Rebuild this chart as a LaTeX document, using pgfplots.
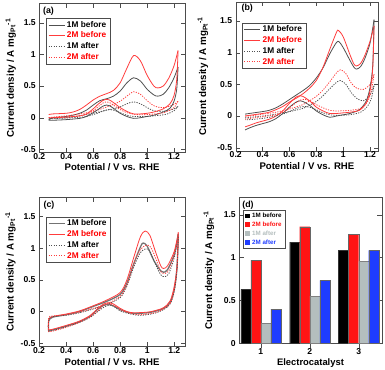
\documentclass[border=0pt]{standalone}
\usepackage{fontspec}
\setmainfont{Liberation Sans}
\usepackage{pgfplots}
\pgfplotsset{compat=1.18}
\definecolor{cvgray}{HTML}{505050}
\definecolor{cvred}{HTML}{FF3C3C}
\definecolor{bgray}{HTML}{B4BEBE}
\definecolor{bblue}{HTML}{1E3CFF}
\definecolor{bred}{HTML}{FF1414}
\pgfplotsset{
  cvbase/.style={
    scale only axis, height=149pt, xmin=0.2, ymin=-0.55, ymax=1.8,
    xtick={0.2,0.4,0.6,0.8,1,1.2}, ytick={-0.5,0,0.5,1,1.5},
    axis line style={black!70}, tick style={black!70},
    tick label style={font=\bfseries\fontsize{8.6}{9.6}\selectfont},
    xticklabel style={inner sep=0.8pt},
    /pgf/number format/assume math mode=true,
    xlabel={Potential / V vs. RHE},
    ylabel={Current density / A mg\textsubscript{Pt}\textsuperscript{-1}},
    xlabel style={font=\bfseries\fontsize{9.6}{11}\selectfont, anchor=center},
    ylabel style={font=\bfseries\fontsize{9.8}{11}\selectfont, anchor=center},
    legend style={draw=black!70, font=\bfseries\fontsize{8.3}{9.3}\selectfont, anchor=north west,
      inner xsep=2pt, inner ysep=1pt, row sep=-0.8pt},
    legend cell align=left,
    legend image code/.code={\draw[##1] (0pt,0pt) -- (16pt,0pt);},
  },
  gs/.style={cvgray, line width=0.8pt, smooth},
  rs/.style={cvred, line width=0.8pt, smooth},
  gd/.style={cvgray, line width=0.8pt, dash pattern=on 1.2pt off 1.3pt, smooth},
  rd/.style={cvred, line width=0.8pt, dash pattern=on 1.2pt off 1.3pt, smooth},
}
\begin{document}
\begin{tikzpicture}
\useasboundingbox (0,0) rectangle (385pt,369pt);
% ---------------- (a)
\begin{axis}[cvbase, at={(39.3pt,216.4pt)}, anchor=south west, width=145.5pt, xmax=1.28,
  xlabel style={at={(axis description cs:0.5,-0.1)}},
  ylabel style={at={(axis description cs:-0.196,0.5)}},
  legend style={at={(rel axis cs:0.046,0.903)}}]
\addplot[gs] coordinates {(0.27,-0.03) (0.3,0.0) (0.35,0.01) (0.4,0.02) (0.45,0.04) (0.5,0.07) (0.55,0.12) (0.6,0.2) (0.65,0.27) (0.7,0.3) (0.75,0.34) (0.8,0.42) (0.85,0.55) (0.9,0.63) (0.95,0.58) (1.0,0.45) (1.05,0.36) (1.08,0.34) (1.12,0.37) (1.16,0.47) (1.2,0.63) (1.23,0.8)};
\addlegendentry{\textcolor{black}{1M before}}
\addplot[rs] coordinates {(0.27,0.05) (0.3,0.06) (0.4,0.07) (0.45,0.09) (0.5,0.13) (0.55,0.2) (0.6,0.28) (0.65,0.34) (0.7,0.38) (0.75,0.43) (0.8,0.55) (0.85,0.78) (0.9,0.98) (0.95,0.9) (1.0,0.67) (1.05,0.5) (1.08,0.47) (1.12,0.5) (1.16,0.62) (1.2,0.82) (1.23,1.06)};
\addlegendentry{\textcolor{red}{2M before}}
\addplot[gd] coordinates {(0.27,-0.02) (0.3,-0.01) (0.4,0.0) (0.5,0.03) (0.6,0.07) (0.7,0.12) (0.75,0.14) (0.8,0.17) (0.85,0.22) (0.9,0.25) (0.95,0.22) (1.0,0.16) (1.05,0.11) (1.1,0.1) (1.15,0.11) (1.2,0.14) (1.23,0.18)};
\addlegendentry{\textcolor{black}{1M after}}
\addplot[rd] coordinates {(0.27,0.0) (0.3,0.01) (0.4,0.03) (0.5,0.06) (0.6,0.1) (0.7,0.17) (0.75,0.21) (0.8,0.26) (0.85,0.34) (0.9,0.41) (0.95,0.37) (1.0,0.27) (1.05,0.19) (1.1,0.16) (1.15,0.17) (1.2,0.21) (1.23,0.26)};
\addlegendentry{\textcolor{red}{2M after}}
\addplot[gs, forget plot] coordinates {(1.23,0.8) (1.22,0.45) (1.2,0.26) (1.17,0.15) (1.12,0.09) (1.05,0.04) (1.0,0.02) (0.95,0.0) (0.9,-0.01) (0.85,0.02) (0.8,0.07) (0.75,0.15) (0.72,0.19) (0.7,0.2) (0.67,0.18) (0.63,0.12) (0.6,0.08) (0.55,0.02) (0.5,-0.01) (0.4,-0.03) (0.3,-0.04) (0.27,-0.04)};
\addplot[rs, forget plot] coordinates {(1.23,1.06) (1.22,0.6) (1.2,0.35) (1.17,0.22) (1.12,0.14) (1.05,0.09) (1.0,0.07) (0.95,0.06) (0.9,0.06) (0.85,0.1) (0.8,0.16) (0.75,0.24) (0.72,0.28) (0.7,0.29) (0.67,0.27) (0.63,0.2) (0.6,0.14) (0.55,0.06) (0.5,0.03) (0.4,0.01) (0.3,0.0) (0.27,0.0)};
\addplot[gd, forget plot] coordinates {(1.23,0.18) (1.2,0.11) (1.15,0.06) (1.1,0.04) (1.0,0.02) (0.9,0.02) (0.85,0.04) (0.8,0.08) (0.75,0.12) (0.72,0.13) (0.68,0.11) (0.63,0.07) (0.55,0.02) (0.45,0.0) (0.35,-0.01) (0.27,-0.02)};
\addplot[rd, forget plot] coordinates {(1.23,0.26) (1.2,0.16) (1.15,0.1) (1.1,0.07) (1.0,0.05) (0.92,0.05) (0.85,0.08) (0.8,0.13) (0.75,0.2) (0.72,0.24) (0.7,0.25) (0.67,0.23) (0.63,0.16) (0.58,0.08) (0.5,0.03) (0.4,0.01) (0.3,0.0) (0.27,0.0)};
\node[font=\bfseries\fontsize{8.8}{10}\selectfont, anchor=north west, inner sep=0pt] at (rel axis cs:0.025,0.975) {(a)};
\end{axis}
% ---------------- (b)
\begin{axis}[cvbase, at={(235.7pt,218.1pt)}, anchor=south west, width=142.4pt, xmax=1.26,
  xlabel style={at={(axis description cs:0.5,-0.1)}},
  ylabel style={at={(axis description cs:-0.23,0.5)}},
  legend style={at={(rel axis cs:0.042,0.86)}}]
\addplot[gs] coordinates {(0.27,0.03) (0.3,0.04) (0.4,0.07) (0.45,0.09) (0.5,0.13) (0.55,0.19) (0.6,0.26) (0.65,0.33) (0.7,0.4) (0.75,0.48) (0.8,0.6) (0.85,0.76) (0.9,0.98) (0.95,1.16) (0.97,1.17) (1.0,1.08) (1.05,0.88) (1.08,0.77) (1.1,0.74) (1.13,0.78) (1.16,0.9) (1.2,1.15) (1.23,1.52)};
\addlegendentry{\textcolor{black}{1M before}}
\addplot[rs] coordinates {(0.27,0.0) (0.3,0.01) (0.4,0.04) (0.45,0.06) (0.5,0.1) (0.55,0.15) (0.6,0.22) (0.65,0.28) (0.7,0.35) (0.75,0.44) (0.8,0.56) (0.85,0.77) (0.9,1.05) (0.95,1.32) (0.965,1.35) (1.0,1.25) (1.05,0.97) (1.08,0.82) (1.1,0.79) (1.13,0.83) (1.16,0.95) (1.2,1.18) (1.23,1.42)};
\addlegendentry{\textcolor{red}{2M before}}
\addplot[gd] coordinates {(0.27,-0.03) (0.3,-0.02) (0.4,0.0) (0.5,0.03) (0.6,0.07) (0.7,0.12) (0.75,0.17) (0.8,0.23) (0.85,0.32) (0.9,0.43) (0.95,0.53) (0.98,0.56) (1.02,0.5) (1.06,0.37) (1.1,0.28) (1.15,0.24) (1.2,0.33) (1.23,0.48)};
\addlegendentry{\textcolor{black}{1M after}}
\addplot[rd] coordinates {(0.27,0.0) (0.3,0.0) (0.4,0.03) (0.5,0.06) (0.6,0.11) (0.7,0.18) (0.75,0.24) (0.8,0.31) (0.85,0.41) (0.9,0.54) (0.95,0.68) (0.98,0.73) (1.02,0.67) (1.06,0.52) (1.1,0.44) (1.15,0.42) (1.2,0.5) (1.23,0.66)};
\addlegendentry{\textcolor{red}{2M after}}
\addplot[gs, forget plot] coordinates {(1.23,1.52) (1.22,0.8) (1.2,0.45) (1.17,0.23) (1.12,0.1) (1.05,0.04) (1.0,0.02) (0.95,0.0) (0.9,-0.02) (0.85,0.02) (0.8,0.08) (0.75,0.17) (0.7,0.23) (0.68,0.24) (0.65,0.22) (0.6,0.14) (0.55,0.04) (0.5,-0.04) (0.45,-0.09) (0.4,-0.12) (0.35,-0.15) (0.3,-0.19) (0.27,-0.22)};
\addplot[rs, forget plot] coordinates {(1.23,1.42) (1.22,0.75) (1.2,0.4) (1.17,0.2) (1.12,0.09) (1.05,0.06) (1.0,0.05) (0.95,0.04) (0.9,0.04) (0.85,0.08) (0.8,0.14) (0.75,0.24) (0.7,0.31) (0.68,0.32) (0.65,0.3) (0.6,0.2) (0.55,0.08) (0.5,0.0) (0.45,-0.05) (0.4,-0.08) (0.35,-0.11) (0.3,-0.15) (0.27,-0.17)};
\addplot[gd, forget plot] coordinates {(1.23,0.48) (1.21,0.28) (1.18,0.15) (1.13,0.06) (1.05,0.02) (0.95,0.01) (0.9,0.02) (0.85,0.05) (0.8,0.1) (0.75,0.14) (0.72,0.15) (0.68,0.14) (0.62,0.09) (0.55,0.03) (0.45,-0.02) (0.35,-0.05) (0.27,-0.06)};
\addplot[rd, forget plot] coordinates {(1.23,0.66) (1.21,0.4) (1.18,0.22) (1.13,0.12) (1.05,0.09) (0.95,0.08) (0.9,0.09) (0.85,0.13) (0.8,0.18) (0.75,0.24) (0.72,0.26) (0.68,0.25) (0.63,0.18) (0.57,0.08) (0.5,0.02) (0.4,-0.01) (0.3,-0.04) (0.27,-0.05)};
\node[font=\bfseries\fontsize{8.8}{10}\selectfont, anchor=north west, inner sep=0pt] at (rel axis cs:0.04,0.985) {(b)};
\end{axis}
% ---------------- (c)
\begin{axis}[cvbase, at={(39pt,22.6pt)}, anchor=south west, width=146.1pt, xmax=1.28,
  xlabel style={at={(axis description cs:0.5,-0.106)}},
  ylabel style={at={(axis description cs:-0.195,0.5)}},
  legend style={at={(rel axis cs:0.046,0.87)}}]
\addplot[cvgray!80, line width=1.3pt, smooth] coordinates {(0.27,-0.3) (0.272,-0.15) (0.3,-0.09) (0.4,-0.05) (0.5,0.0) (0.6,0.08) (0.7,0.16) (0.8,0.27) (0.85,0.45) (0.9,0.75) (0.95,1.02) (0.97,1.08) (1.0,1.03) (1.05,0.8) (1.1,0.64) (1.12,0.62) (1.15,0.66) (1.2,0.9) (1.23,1.22)};
\addlegendentry{\textcolor{black}{1M before}}
\addplot[rs] coordinates {(0.27,-0.29) (0.272,-0.13) (0.3,-0.08) (0.4,-0.04) (0.5,0.01) (0.6,0.09) (0.7,0.18) (0.8,0.3) (0.85,0.5) (0.9,0.85) (0.95,1.18) (0.985,1.27) (1.02,1.2) (1.06,0.95) (1.1,0.72) (1.12,0.68) (1.15,0.72) (1.2,0.95) (1.23,1.25)};
\addlegendentry{\textcolor{red}{2M before}}
\addplot[gd] coordinates {(0.27,-0.31) (0.272,-0.12) (0.3,-0.08) (0.4,-0.06) (0.5,-0.02) (0.6,0.04) (0.7,0.11) (0.8,0.22) (0.85,0.4) (0.9,0.7) (0.95,0.93) (0.99,0.99) (1.02,0.95) (1.06,0.75) (1.1,0.58) (1.13,0.55) (1.16,0.6) (1.2,0.85) (1.23,1.18)};
\addlegendentry{\textcolor{black}{1M after}}
\addplot[rd] coordinates {(0.27,-0.32) (0.272,-0.1) (0.3,-0.07) (0.4,-0.05) (0.5,-0.01) (0.6,0.05) (0.7,0.12) (0.8,0.24) (0.85,0.42) (0.9,0.75) (0.95,0.98) (1.0,1.05) (1.03,1.0) (1.07,0.8) (1.1,0.63) (1.13,0.6) (1.16,0.65) (1.2,0.9) (1.23,1.2)};
\addlegendentry{\textcolor{red}{2M after}}
\addplot[cvgray!80, line width=1.3pt, smooth, forget plot] coordinates {(1.23,1.22) (1.22,0.7) (1.2,0.35) (1.17,0.15) (1.12,0.05) (1.05,0.0) (1.0,-0.02) (0.9,-0.03) (0.85,-0.01) (0.8,0.03) (0.75,0.09) (0.72,0.11) (0.68,0.1) (0.63,0.03) (0.58,-0.07) (0.5,-0.16) (0.4,-0.23) (0.3,-0.29) (0.27,-0.3)};
\addplot[rs, forget plot] coordinates {(1.23,1.25) (1.22,0.7) (1.2,0.4) (1.17,0.17) (1.12,0.06) (1.05,0.01) (1.0,-0.01) (0.9,-0.02) (0.85,0.0) (0.8,0.05) (0.75,0.12) (0.72,0.14) (0.68,0.12) (0.63,0.04) (0.58,-0.06) (0.5,-0.15) (0.4,-0.22) (0.3,-0.28) (0.27,-0.29)};
\addplot[gd, forget plot] coordinates {(1.23,1.18) (1.22,0.65) (1.2,0.32) (1.17,0.12) (1.12,0.03) (1.05,-0.03) (0.95,-0.06) (0.88,-0.04) (0.8,0.01) (0.76,0.07) (0.73,0.1) (0.69,0.08) (0.64,0.01) (0.58,-0.09) (0.5,-0.17) (0.4,-0.24) (0.3,-0.3) (0.27,-0.31)};
\addplot[rd, forget plot] coordinates {(1.23,1.2) (1.22,0.68) (1.2,0.34) (1.17,0.13) (1.12,0.04) (1.05,-0.02) (0.95,-0.05) (0.88,-0.03) (0.8,0.03) (0.76,0.09) (0.72,0.12) (0.68,0.1) (0.64,0.02) (0.58,-0.08) (0.5,-0.17) (0.4,-0.25) (0.3,-0.31) (0.27,-0.32)};
\node[font=\bfseries\fontsize{8.8}{10}\selectfont, anchor=north west, inner sep=0pt] at (rel axis cs:0.03,0.975) {(c)};
\end{axis}
% ---------------- (d)
\begin{axis}[scale only axis, at={(239.3pt,25.7pt)}, anchor=south west, width=142.4pt, height=145.7pt,
  xmin=0.56, xmax=3.47, ymin=0, ymax=1.7,
  ybar=0pt, bar width=0.205,
  xtick={1,2,3}, ytick={0,0.5,1,1.5}, xtick pos=bottom,
  axis line style={black!70}, tick style={black!70},
  tick label style={font=\bfseries\fontsize{8.6}{9.6}\selectfont},
  xticklabel style={inner sep=1pt},
  /pgf/number format/assume math mode=true,
  xlabel={Electrocatalyst},
  ylabel={Current density / A mg\textsubscript{Pt}\textsuperscript{-1}},
  xlabel style={font=\bfseries\fontsize{9.4}{11}\selectfont, anchor=center, at={(axis description cs:0.5,-0.133)}},
  ylabel style={font=\bfseries\fontsize{9.8}{11}\selectfont, anchor=center, at={(axis description cs:-0.213,0.5)}},
  legend style={draw=black!70, font=\bfseries\fontsize{6.2}{7}\selectfont, anchor=north west,
    at={(rel axis cs:0.026,0.915)}, inner xsep=2pt, inner ysep=1pt, row sep=-1.2pt},
  legend cell align=left,
  legend image code/.code={\draw[#1, draw=none] (0pt,-2.2pt) rectangle (5pt,2.6pt);},
]
\addplot[fill=black, draw=black!80, line width=0.4pt] coordinates {(1,0.63) (2,1.18) (3,1.085)};
\addlegendentry{\textcolor{black}{1M before}}
\addplot[fill=bred, draw=black!60, line width=0.4pt] coordinates {(1,0.97) (2,1.36) (3,1.27)};
\addlegendentry{\textcolor{bred}{2M before}}
\addplot[fill=bgray, draw=black!50, line width=0.4pt] coordinates {(1,0.23) (2,0.55) (3,0.957)};
\addlegendentry{\textcolor{bgray}{1M after}}
\addplot[fill=bblue, draw=black!60, line width=0.4pt] coordinates {(1,0.40) (2,0.735) (3,1.085)};
\addlegendentry{\textcolor{bblue}{2M after}}
\node[font=\bfseries\fontsize{8.8}{10}\selectfont, anchor=north west, inner sep=0pt] at (rel axis cs:0.02,0.975) {(d)};
\end{axis}
\end{tikzpicture}
\end{document}
